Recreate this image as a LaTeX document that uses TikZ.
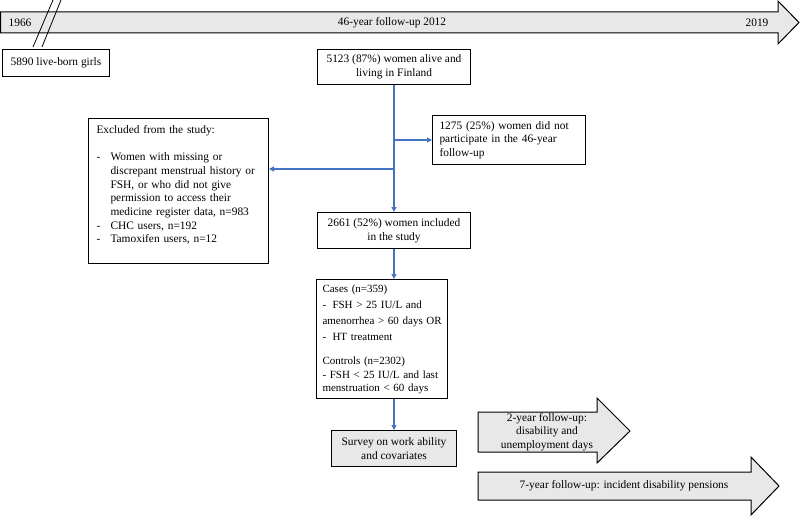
\documentclass[tikz,border=0pt]{standalone}
\usepackage{fontspec}
\setmainfont{Liberation Serif}
\usetikzlibrary{arrows.meta, positioning}

\definecolor{flowblue}{RGB}{68,114,196}
\definecolor{lightgray}{RGB}{232,232,232}

\tikzset{
    box/.style={draw, line width=1pt, inner xsep=7pt, inner ysep=3pt, anchor=north west, align=center},
    leftbox/.style={box, align=left},
    flow/.style={draw=flowblue, line width=1.1pt, -{Triangle[length=5pt, width=5pt]}},
    band/.style={draw, line width=1pt, fill=lightgray},
}

\begin{document}
\begin{tikzpicture}[x=1pt, y=-1pt, font=\fontsize{11.4}{13.7}\selectfont]
    \useasboundingbox (0,0) rectangle (800,516);

    % Zeitachse oben
    \draw[band] (0.5,12) -- (778,12) -- (778,1) -- (799,22.5) -- (778,44) -- (778,33) -- (0.5,33) -- cycle;
    \draw[line width=0.8pt] (53,0) -- (33,47);
    \draw[line width=0.8pt] (61,0) -- (42,47);
    \node (y1966) at (20,22.5) {1966};
    \node (y2012) at (392,22.5) {46-year follow-up 2012};
    \node (y2019) at (757,22.5) {2019};

    % Kästen
    \node[box, minimum width=107, minimum height=27] (girls) at (2,49) {5890 live-born girls};
    \node[box, minimum width=153, minimum height=35] (alive) at (317,49)
        {5123 (87\%) women alive and\\ living in Finland};
    \node[leftbox, text width=139, minimum width=153, minimum height=49] (nopart) at (432,115)
        {1275 (25\%) women did not\\ participate in the 46-year\\ follow-up};
    \node[leftbox, inner xsep=8pt, text width=164, minimum width=180, minimum height=145] (excl) at (88,118)
        {Excluded from the study:\\ \mbox{}\\
         \makebox[14pt][l]{-}Women with missing or\\
         \hspace*{14pt}discrepant menstrual history or\\
         \hspace*{14pt}FSH, or who did not give\\
         \hspace*{14pt}permission to access their\\
         \hspace*{14pt}medicine register data, n=983\\
         \makebox[14pt][l]{-}CHC users, n=192\\
         \makebox[14pt][l]{-}Tamoxifen users, n=12\\ \mbox{}};
    \node[box, minimum width=153, minimum height=36] (incl) at (317,212)
        {2661 (52\%) women included\\ in the study};
    \node[leftbox, inner xsep=6pt, text width=119, minimum width=131, minimum height=119,
          font=\fontsize{11}{13.2}\selectfont] (cases) at (316,279)
        {Cases (n=359)\\[3pt]
         \makebox[10pt][l]{-}FSH > 25 IU/L and\\[3pt]
         \mbox{amenorrhea > 60 days OR}\\[3pt]
         \makebox[10pt][l]{-}HT treatment\\[11pt]
         Controls (n=2302)\\
         \mbox{- FSH < 25 IU/L and last}\\
         menstruation < 60 days};
    \node[box, fill=lightgray, minimum width=125, minimum height=36] (survey) at (331,430)
        {Survey on work ability\\ and covariates};

    % Verbindungen
    \coordinate (split) at (393.5,169);
    \draw[flow] (alive.south) -- (incl.north);
    \draw[flow] (alive.south |- nopart.west) -- (nopart.west);
    \draw[flow] (split) -- (split -| excl.east);
    \draw[flow] (incl.south) -- (incl.south |- cases.north);
    \draw[flow] (incl.south |- cases.south) -- (survey.north);

    % Nachbeobachtung
    \draw[band] (478,412) -- (597,412) -- (597,398) -- (630,431) -- (597,463) -- (597,452) -- (478,452) -- cycle;
    \node[align=center] (fu2) at (547,432) {2-year follow-up:\\ disability and\\ unemployment days};
    \draw[band] (478,472) -- (751,472) -- (751,457) -- (779,486) -- (751,515) -- (751,500) -- (478,500) -- cycle;
    \node (fu7) at (624,486) {7-year follow-up: incident disability pensions};
\end{tikzpicture}
\end{document}
